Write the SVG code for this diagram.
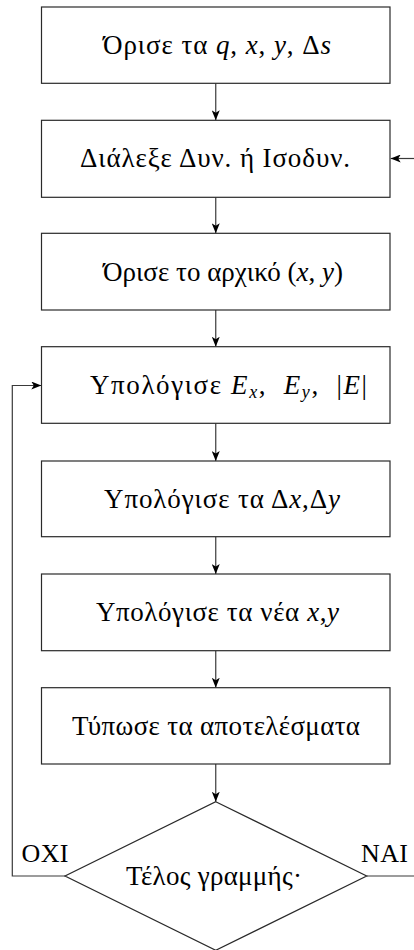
<svg xmlns="http://www.w3.org/2000/svg" width="414" height="950" viewBox="0 0 414 950">
  <style>
    .box { fill: #ffffff; stroke: #2a2a2a; stroke-width: 1.2; }
    .edge { fill: none; stroke: #3a3a3a; stroke-width: 1.2; }
    .lbl { font-family: "Liberation Serif", "DejaVu Serif", serif; font-size: 27px; fill: #000; }
    .side { font-family: "Liberation Serif", "DejaVu Serif", serif; font-size: 26px; fill: #000; }
    .m { font-style: italic; }
    .sub { font-style: italic; font-size: 18px; }
  </style>
  <defs>
    <marker id="arr" markerWidth="11" markerHeight="8" refX="10" refY="4" orient="auto" markerUnits="userSpaceOnUse">
      <path d="M0,0 L10,4 L0,8 L2.5,4 Z" fill="#000"/>
    </marker>
  </defs>
  <rect width="414" height="950" fill="#ffffff"/>

  <g id="connectors">
    <line class="edge" x1="215.75" y1="83.3" x2="215.75" y2="120.3" marker-end="url(#arr)"/>
    <line class="edge" x1="215.75" y1="197.3" x2="215.75" y2="233.3" marker-end="url(#arr)"/>
    <line class="edge" x1="215.75" y1="310" x2="215.75" y2="346.7" marker-end="url(#arr)"/>
    <line class="edge" x1="215.75" y1="423.3" x2="215.75" y2="461" marker-end="url(#arr)"/>
    <line class="edge" x1="215.75" y1="536.7" x2="215.75" y2="574" marker-end="url(#arr)"/>
    <line class="edge" x1="215.75" y1="650.7" x2="215.75" y2="687.7" marker-end="url(#arr)"/>
    <line class="edge" x1="215.75" y1="764" x2="215.75" y2="801.7" marker-end="url(#arr)"/>
    <line class="edge" x1="414" y1="158.5" x2="390.7" y2="158.5" marker-end="url(#arr)"/>
    <line class="edge" x1="366.7" y1="876" x2="414" y2="876"/>
    <polyline class="edge" points="65,876 12.3,876 12.3,385.5 41.3,385.5" marker-end="url(#arr)"/>
  </g>

  <g id="n1">
    <rect class="box" x="41.5" y="7" width="348.5" height="76.3"/>
    <text class="lbl" x="103" y="54" textLength="228">Όρισε τα <tspan class="m">q</tspan>, <tspan class="m">x</tspan>, <tspan class="m">y</tspan>, Δ<tspan class="m">s</tspan></text>
  </g>
  <g id="n2">
    <rect class="box" x="41.5" y="120.3" width="348.5" height="77"/>
    <text class="lbl" x="80" y="167" textLength="270">Διάλεξε Δυν. ή Ισοδυν.</text>
  </g>
  <g id="n3">
    <rect class="box" x="41.5" y="233.3" width="348.5" height="76.7"/>
    <text class="lbl" x="103" y="280.5" textLength="240">Όρισε το αρχικό (<tspan class="m">x</tspan>, <tspan class="m">y</tspan>)</text>
  </g>
  <g id="n4">
    <rect class="box" x="41.5" y="346.7" width="348.5" height="76.6"/>
    <text class="lbl" x="90" y="393.5" textLength="277" xml:space="preserve">Υπολόγισε <tspan class="m">E</tspan><tspan class="sub" dy="4">x</tspan><tspan dy="-4">,  </tspan><tspan class="m">E</tspan><tspan class="sub" dy="4">y</tspan><tspan dy="-4">,  |</tspan><tspan class="m">E</tspan>|</text>
  </g>
  <g id="n5">
    <rect class="box" x="41.5" y="461" width="348.5" height="75.7"/>
    <text class="lbl" x="104" y="507.5" textLength="236">Υπολόγισε τα Δ<tspan class="m">x</tspan>,Δ<tspan class="m">y</tspan></text>
  </g>
  <g id="n6">
    <rect class="box" x="41.5" y="574" width="348.5" height="76.7"/>
    <text class="lbl" x="96" y="620.5" textLength="243">Υπολόγισε τα νέα <tspan class="m">x</tspan>,<tspan class="m">y</tspan></text>
  </g>
  <g id="n7">
    <rect class="box" x="41.5" y="687.7" width="348.5" height="76.3"/>
    <text class="lbl" x="72" y="734.5" textLength="288">Τύπωσε τα αποτελέσματα</text>
  </g>
  <g id="n8">
    <polygon class="box" points="215.75,801.7 366.7,876 215.75,950.3 65,876"/>
    <text class="lbl" x="126" y="885" textLength="176">Τέλος γραμμής·</text>
  </g>
  <g id="labels">
    <text class="side" x="21.5" y="861.7" textLength="47">ΟΧΙ</text>
    <text class="side" x="361" y="861.7" textLength="47">ΝΑΙ</text>
  </g>
</svg>
